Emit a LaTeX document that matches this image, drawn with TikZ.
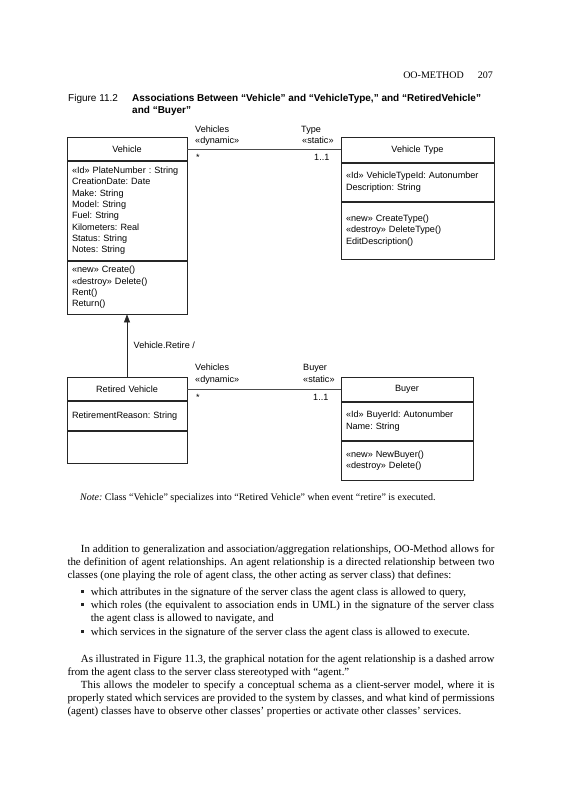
\documentclass[tikz,border=0pt]{standalone}
\usepackage{fontspec}
\setmainfont{Liberation Serif}
\newfontfamily\diagfont{Liberation Sans}
\usetikzlibrary{positioning, arrows.meta}
\frenchspacing

\begin{document}
\begin{tikzpicture}[
    x=1pt, y=-1pt,
    diag/.style={font=\diagfont\fontsize{9.1}{11.35}\selectfont},
    part/.style={
        draw=black!85,
        line width=0.8pt,
        diag,
        inner xsep=5pt,
        inner ysep=0pt,
        align=left,
        anchor=north
    },
    head/.style={part, align=center},
    role/.style={diag, inner sep=0pt, anchor=base west},
    assoc/.style={draw=black!70, line width=0.7pt},
    gen/.style={-{Triangle[width=6pt, length=8pt]}, draw=black!85, line width=0.7pt},
    body/.style={font=\fontsize{10.9}{13.3}\selectfont, inner sep=0pt, anchor=base west, align=justify},
    dot/.style={fill=black!85, inner sep=0pt, minimum size=3pt}
]

\useasboundingbox[fill=white] (0,0) rectangle (560,800);

\def\xl{67.3}
\def\xb{90.7}

% Running head and caption
\node[font=\fontsize{10}{12}\selectfont, inner sep=0pt, anchor=base east] (runhead) at (493,78) {OO-METHOD\hspace{14pt}207};
\node[font=\diagfont\fontsize{10}{12}\selectfont, inner sep=0pt, anchor=base west] (fignum) at (68,101) {Figure 11.2};
\node[font=\diagfont\bfseries\fontsize{10}{12}\selectfont, inner sep=0pt, anchor=base west] (caption) at (132,101) {Associations Between “Vehicle” and “VehicleType,” and “RetiredVehicle”};
\node[font=\diagfont\bfseries\fontsize{10}{12}\selectfont, inner sep=0pt, anchor=base west] (caption2) at (132,113) {and “Buyer”};

% Classes
\node[head, text width=110pt, minimum height=23pt] (veh) at (127,137) {Vehicle};
\node[part, text width=110pt, minimum height=99pt, below=0pt of veh] (vehattr) {«Id» PlateNumber : String\\CreationDate: Date\\Make: String\\Model: String\\Fuel: String\\Kilometers: Real\\Status: String\\Notes: String};
\node[part, text width=110pt, minimum height=53pt, below=0pt of vehattr] (vehops) {«new» Create()\\«destroy» Delete()\\Rent()\\Return()};

\node[head, text width=143pt, minimum height=25pt] (vt) at (417.5,137) {Vehicle Type};
\node[part, text width=143pt, minimum height=38pt, below=0pt of vt] (vtattr) {«Id» VehicleTypeId: Autonumber\\Description: String};
\node[part, text width=143pt, minimum height=57pt, below=0pt of vtattr] (vtops) {«new» CreateType()\\«destroy» DeleteType()\\EditDescription()};

\node[head, text width=110pt, minimum height=23pt] (ret) at (127,377) {Retired Vehicle};
\node[part, text width=110pt, minimum height=29pt, below=0pt of ret] (retattr) {RetirementReason: String};
\node[part, text width=110pt, minimum height=32pt, below=0pt of retattr] (retops) {};

\node[head, text width=122pt, minimum height=24pt] (buy) at (407,377) {Buyer};
\node[part, text width=122pt, minimum height=38pt, below=0pt of buy] (buyattr) {«Id» BuyerId: Autonumber\\Name: String};
\node[part, text width=122pt, minimum height=39pt, below=0pt of buyattr] (buyops) {«new» NewBuyer()\\«destroy» Delete()};

% Associations
\draw[assoc] (veh.east) -- (veh.east -| vt.west);
\node[role] (r1a) at (195,132) {Vehicles};
\node[role] (r1b) at (195,143) {«dynamic»};
\node[role] (m1a) at (196,160) {*};
\node[role] (r1c) at (301,132) {Type};
\node[role] (r1d) at (302,143) {«static»};
\node[role] (m1b) at (314,160) {1..1};

\draw[assoc] (ret.east) -- (ret.east -| buy.west);
\node[role] (r2a) at (195,370) {Vehicles};
\node[role] (r2b) at (195,382) {«dynamic»};
\node[role] (m2a) at (196,400) {*};
\node[role] (r2c) at (303,370) {Buyer};
\node[role] (r2d) at (303,382) {«static»};
\node[role] (m2b) at (313,400) {1..1};

% Specialization
\draw[gen] (ret.north) -- node[diag, right=3pt] {Vehicle.Retire /} (vehops.south);

\node[font=\fontsize{10}{12}\selectfont, inner sep=0pt, anchor=base west] (note) at (80,500) {\textit{Note:} Class “Vehicle” specializes into “Retired Vehicle” when event “retire” is executed.};

% Body text
\node[body, text width=427pt] (para1) at (\xl,552) {\hspace*{13.4pt}In addition to generalization and association/aggregation relationships, OO-Method allows for\linebreak the definition of agent relationships. An agent relationship is a directed relationship between two\linebreak classes (one playing the role of agent class, the other acting as server class) that defines:};

\node[dot] (d1) at (82.5,591.5) {};
\node[body, text width=403.3pt] (item1) at (\xb,595) {which attributes in the signature of the server class the agent class is allowed to query,};
\node[dot] (d2) at (82.5,604.5) {};
\node[body, text width=403.3pt] (item2) at (\xb,608) {which roles (the equivalent to association ends in UML) in the signature of the server class\linebreak the agent class is allowed to navigate, and};
\node[dot] (d3) at (82.5,631.5) {};
\node[body, text width=403.3pt] (item3) at (\xb,635) {which services in the signature of the server class the agent class is allowed to execute.};

\node[body, text width=427pt] (para2) at (\xl,662) {\hspace*{13.4pt}As illustrated in Figure 11.3, the graphical notation for the agent relationship is a dashed arrow\linebreak from the agent class to the server class stereotyped with “agent.”};
\node[body, text width=427pt] (para3) at (\xl,688) {\hspace*{13.4pt}This allows the modeler to specify a conceptual schema as a client-server model, where it is\linebreak properly stated which services are provided to the system by classes, and what kind of permissions\linebreak (agent) classes have to observe other classes’ properties or activate other classes’ services.};

\end{tikzpicture}
\end{document}
